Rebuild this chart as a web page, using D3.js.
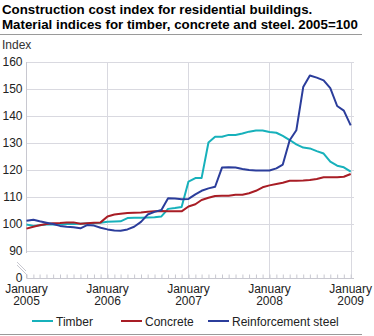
<!DOCTYPE html>
<html>
<head>
<meta charset="utf-8">
<title>Construction cost index</title>
<style>
  *{margin:0;padding:0;}
  body{background:#fff;}
  svg{display:block;font-family:"Liberation Sans",Arial,sans-serif;}
</style>
</head>
<body>
<div id="chart"></div>
<script src="https://cdn.jsdelivr.net/npm/d3@7/dist/d3.min.js"></script>
<script>
// monthly index values, January 2005 - January 2009 (2005=100)
var seriesNames = ["Timber", "Concrete", "Reinforcement steel"];
var timber = [99.8, 99.3, 99.5, 99.8, 99.8, 99.8, 100, 100, 100.1, 100.2, 100.3, 100.5,
              100.8, 100.9, 101, 102.2, 102.3, 102.3, 102.4, 102.5, 102.8, 105.6, 105.9, 106.3,
              115.7, 117, 117, 130.2, 132.3, 132.3, 133, 133, 133.5, 134.2, 134.6, 134.6,
              134.1, 133.8, 132.6, 131.1, 129.5, 128.3, 128, 127, 126.1, 123.1, 121.6, 121,
              119.4];
var concrete = [98.3, 99, 99.5, 100, 100.3, 100.4, 100.6, 100.6, 100.1, 100.3, 100.5, 100.6,
                102.8, 103.5, 103.8, 104.1, 104.2, 104.3, 104.5, 104.7, 104.8, 104.7, 104.7, 104.7,
                106.5, 107.3, 108.9, 109.7, 110.4, 110.5, 110.5, 110.8, 110.8, 111.4, 112.3, 113.6,
                114.3, 114.8, 115.3, 116, 116, 116.1, 116.3, 116.7, 117.3, 117.3, 117.3, 117.5,
                118.5];
var steel = [101.2, 101.6, 101, 100.5, 100, 99.3, 99, 98.8, 98.4, 99.6, 99.4, 98.6,
             98, 97.6, 97.5, 98, 99, 100.8, 103.5, 104.5, 105.2, 109.5, 109.4, 109.2,
             109.3, 111, 112.3, 113.2, 113.8, 120.9, 121, 120.9, 120.4, 120, 119.8, 119.8,
             119.8, 120.6, 122, 131, 134.7, 150.7, 155, 154.2, 153.2, 150.3, 143.7, 142,
             136.5];
var yTicks = [80, 90, 100, 110, 120, 130, 140, 150, 160];  // 80 is drawn as the broken "0"
var yearTicks = [2005, 2006, 2007, 2008, 2009];
var colors = ["#17b1bb", "#a81d25", "#2b3d9b"];

var width = 374, height = 336;
var months = d3.timeMonth.range(new Date(2005, 0, 1), new Date(2009, 0, 2));
var allSeries = [timber, concrete, steel];

var svg = d3.select("#chart").append("svg")
    .attr("width", width)
    .attr("height", height);

// title
var title = svg.append("text")
    .attr("font-size", 13.3)
    .attr("font-weight", "bold")
    .attr("fill", "#000");
title.append("tspan").attr("x", 2).attr("y", 14)
    .text("Construction cost index for residential buildings.");
title.append("tspan").attr("x", 2).attr("y", 29)
    .text("Material indices for timber, concrete and steel. 2005=100");

svg.append("line")
    .attr("x1", 0).attr("x2", 362)
    .attr("y1", 34.5).attr("y2", 34.5)
    .attr("stroke", "#9a9a9a");

svg.append("text")
    .attr("x", 2).attr("y", 49)
    .attr("font-size", 12)
    .attr("fill", "#333")
    .text("Index");

var plotLeft = 26.5, lastX = 350.7, plotRight = 354, plotTop = 62, plotBottom = 278;

var x = d3.scaleTime()
    .domain([months[0], months[months.length - 1]])
    .range([plotLeft, lastX]);

var y = d3.scaleLinear()
    .domain([80, 160])
    .range([plotBottom, plotTop]);

// horizontal grid lines
svg.append("g").selectAll("line")
    .data(yTicks.filter(function(d){ return d >= 90; }))
    .enter().append("line")
    .attr("x1", plotLeft).attr("x2", plotRight)
    .attr("y1", function(d){ return Math.round(y(d)) + 0.5; })
    .attr("y2", function(d){ return Math.round(y(d)) + 0.5; })
    .attr("stroke", "#d9d9e0");

// vertical grid lines at each January
svg.append("g").selectAll("line")
    .data(yearTicks.slice(1))
    .enter().append("line")
    .attr("x1", function(d){ return Math.round(x(new Date(d, 0, 1))) + 0.5; })
    .attr("x2", function(d){ return Math.round(x(new Date(d, 0, 1))) + 0.5; })
    .attr("y1", plotTop).attr("y2", plotBottom)
    .attr("stroke", "#d9d9e0");

// left axis line with break
svg.append("line")
    .attr("x1", plotLeft).attr("x2", plotLeft)
    .attr("y1", plotTop).attr("y2", y(90) + 2)
    .attr("stroke", "#c8c8d0");
svg.append("line")
    .attr("x1", plotLeft).attr("x2", plotLeft)
    .attr("y1", plotBottom - 4).attr("y2", plotBottom)
    .attr("stroke", "#c8c8d0");
svg.append("line").attr("x1", 17).attr("y1", 262).attr("x2", 26).attr("y2", 271)
    .attr("stroke", "#c8c8d0");
svg.append("line").attr("x1", 17).attr("y1", 265).attr("x2", 26).attr("y2", 274)
    .attr("stroke", "#c8c8d0");

// y axis labels
var yAxis = d3.axisLeft(y)
    .tickValues(yTicks)
    .tickSize(0)
    .tickPadding(4)
    .tickFormat(function(d){ return d === 80 ? "0" : d; });
var gy = svg.append("g")
    .attr("transform", "translate(" + plotLeft + ",0)")
    .call(yAxis);
gy.select(".domain").remove();
gy.selectAll("text")
    .attr("font-size", 12)
    .attr("font-family", "Liberation Sans, Arial, sans-serif")
    .attr("fill", "#222");

// bottom axis with month ticks
var xAxis = d3.axisBottom(x)
    .tickValues(months)
    .tickSizeInner(-4)
    .tickSizeOuter(0)
    .tickFormat("");
var gx = svg.append("g")
    .attr("transform", "translate(0," + (plotBottom + 0.5) + ")")
    .call(xAxis);
gx.select(".domain").attr("stroke", "#c8c8d0").attr("d", "M" + plotLeft + ",0H" + plotRight);
gx.selectAll(".tick line").attr("stroke", "#c8c8d0");

// year labels
var labels = svg.append("g").selectAll("text")
    .data(yearTicks)
    .enter().append("text")
    .attr("text-anchor", "middle")
    .attr("font-size", 12)
    .attr("fill", "#222");
labels.append("tspan")
    .attr("x", function(d){ return x(new Date(d, 0, 1)); })
    .attr("y", 293)
    .text("January");
labels.append("tspan")
    .attr("x", function(d){ return x(new Date(d, 0, 1)); })
    .attr("y", 305)
    .text(function(d){ return d; });

// series lines
var line = d3.line()
    .x(function(d, i){ return x(months[i]); })
    .y(function(d){ return y(d); });

svg.append("g").selectAll("path")
    .data(allSeries)
    .enter().append("path")
    .attr("d", line)
    .attr("fill", "none")
    .attr("stroke", function(d, i){ return colors[i]; })
    .attr("stroke-width", 2)
    .attr("stroke-linejoin", "round");

// legend
var legendX = [32, 121, 208];
var legend = svg.append("g").selectAll("g")
    .data(seriesNames)
    .enter().append("g")
    .attr("transform", function(d, i){ return "translate(" + legendX[i] + ",321)"; });
legend.append("line")
    .attr("x1", 0).attr("x2", 21)
    .attr("stroke", function(d, i){ return colors[i]; })
    .attr("stroke-width", 2);
legend.append("text")
    .attr("x", 24).attr("y", 4.5)
    .attr("font-size", 12)
    .attr("fill", "#222")
    .text(function(d){ return d; });

svg.append("line")
    .attr("x1", 0).attr("x2", 362)
    .attr("y1", 334.5).attr("y2", 334.5)
    .attr("stroke", "#9a9a9a");
</script>
</body>
</html>
